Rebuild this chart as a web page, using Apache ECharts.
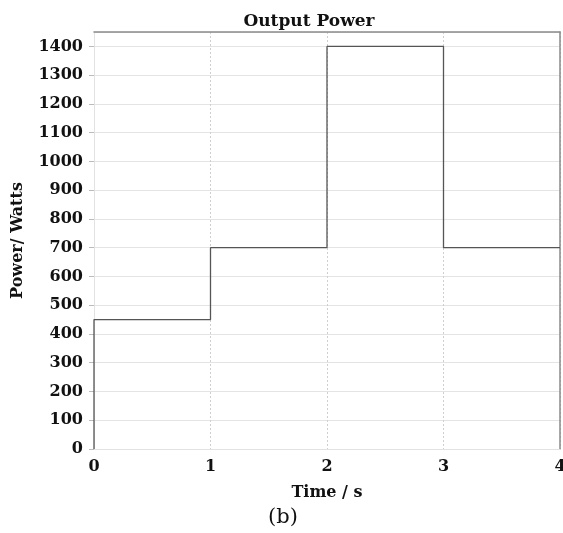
<!DOCTYPE html>
<html>
<head>
<meta charset="utf-8">
<script src="https://cdn.jsdelivr.net/npm/echarts@6/dist/echarts.min.js"></script>
<style>
  html, body { margin: 0; padding: 0; background: #fff; }
  #chart { width: 563px; height: 533px; }
</style>
</head>
<body>
<div id="chart"></div>
<script>
// step points: time (s) and power (W)
const times = [0, 0, 1, 2, 3, 4];
const power = [0, 450, 700, 1400, 700, 700];
const xTicks = [0, 1, 2, 3, 4];
const yMax = 1450;

const chart = echarts.init(document.getElementById('chart'), null, { renderer: 'canvas' });

const labelFont = {
  color: '#111',
  fontFamily: 'DejaVu Serif',
  fontWeight: 'bold',
  fontSize: 16,
};

chart.setOption({
  animation: false,
  backgroundColor: '#fff',
  title: {
    text: 'Output Power',
    left: 304,
    top: 8,
    textAlign: 'center',
    textStyle: { ...labelFont, fontSize: 17 },
  },
  graphic: [
    {
      type: 'text',
      left: 268,
      top: 507,
      style: { text: '(b)', fontFamily: 'DejaVu Serif', fontSize: 21, fill: '#111' },
    },
  ],
  grid: { left: 94, right: 3, top: 32, bottom: 84, outerBoundsMode: 'none' },
  xAxis: [
    {
      type: 'value',
      min: xTicks[0],
      max: xTicks[xTicks.length - 1],
      interval: 1,
      name: 'Time / s',
      nameLocation: 'middle',
      nameGap: 36,
      nameTextStyle: { ...labelFont },
      axisLine: { show: true, onZero: false, lineStyle: { color: '#e2e2e2' } },
      axisTick: { show: false },
      axisLabel: { ...labelFont, margin: 10 },
      splitLine: { show: true, lineStyle: { color: '#cfcfcf', type: [2, 2] } },
    },
    {
      type: 'value',
      position: 'top',
      min: xTicks[0],
      max: xTicks[xTicks.length - 1],
      axisLine: { show: true, onZero: false, lineStyle: { color: '#8a8a8a', width: 1.5 } },
      axisTick: { show: false },
      axisLabel: { show: false },
      splitLine: { show: false },
    },
  ],
  yAxis: [
    {
      type: 'value',
      min: 0,
      max: yMax,
      interval: 100,
      name: 'Power/ Watts',
      nameLocation: 'middle',
      nameRotate: 90,
      nameGap: 68,
      nameTextStyle: { ...labelFont },
      axisLine: { show: true, onZero: false, lineStyle: { color: '#e2e2e2' } },
      axisTick: { show: true, length: 5, lineStyle: { color: '#bbb' } },
      axisLabel: { ...labelFont, margin: 11, showMaxLabel: false, formatter: (v) => String(v) },
      splitLine: { show: true, lineStyle: { color: '#e4e4e4' } },
    },
    {
      type: 'value',
      position: 'right',
      min: 0,
      max: yMax,
      axisLine: { show: true, onZero: false, lineStyle: { color: '#8a8a8a', width: 1.5 } },
      axisTick: { show: false },
      axisLabel: { show: false },
      splitLine: { show: false },
    },
  ],
  series: [
    {
      name: 'Output Power',
      type: 'line',
      step: 'end',
      data: times.map((t, i) => [t, power[i]]),
      showSymbol: false,
      lineStyle: { color: '#555', width: 1.3 },
    },
  ],
});
</script>
</body>
</html>
